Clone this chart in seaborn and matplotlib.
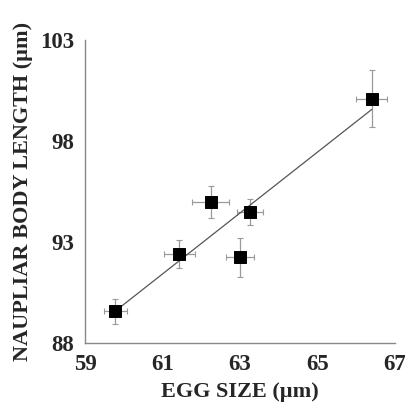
import matplotlib
matplotlib.use("Agg")
import matplotlib.pyplot as plt
import seaborn as sns
import numpy as np
import pandas as pd

egg_size = [59.78, 61.43, 62.24, 63.26, 63.00, 66.40]
body_length = [89.56, 92.39, 94.98, 94.49, 92.24, 100.1]
egg_err = [0.30, 0.40, 0.47, 0.33, 0.35, 0.40]
body_err = [0.60, 0.70, 0.80, 0.65, 0.95, 1.40]
x_ticks = [59, 61, 63, 65, 67]
y_ticks = [88, 93, 98, 103]

sns.set_style("white")
plt.rcParams['font.family'] = ['Liberation Serif', 'DejaVu Serif']

df = pd.DataFrame({"egg": egg_size, "body": body_length})

fig = plt.figure(figsize=(4.06, 4.04), dpi=100)
ax = fig.add_axes([0.2094, 0.151, 0.7636, 0.750])

ax.errorbar(egg_size, body_length, xerr=egg_err, yerr=body_err, fmt='none',
            ecolor='#9a9a9a', elinewidth=0.9, capsize=2.5, capthick=0.8, zorder=2)
sns.regplot(data=df, x="egg", y="body", ax=ax, ci=None, truncate=True,
            scatter=False, line_kws=dict(color='#555555', lw=0.9, zorder=3))
sns.scatterplot(data=df, x="egg", y="body", ax=ax, marker='s', s=75,
                color='black', edgecolor='black', zorder=4)

ax.set_xlim(59, 67)
ax.set_ylim(88, 103)
ax.set_xticks(x_ticks)
ax.set_yticks(y_ticks)
ax.set_xticklabels([str(t) for t in x_ticks], fontsize=16.5, fontweight='bold')
ax.set_yticklabels([str(t) for t in y_ticks], fontsize=16.5, fontweight='bold')
ax.tick_params(axis='both', direction='out', length=3, width=0.6, color='#888888', pad=5)
ax.set_xlabel("EGG SIZE (µm)", fontsize=16, fontweight='bold', labelpad=5)
ax.set_ylabel("NAUPLIAR BODY LENGTH (µm)", fontsize=16, fontweight='bold', labelpad=5)
for s in ['top', 'right']:
    ax.spines[s].set_visible(False)
for s in ['left', 'bottom']:
    ax.spines[s].set_color('#888888')
    ax.spines[s].set_linewidth(1.0)

fig.savefig("out.png", dpi=100)
